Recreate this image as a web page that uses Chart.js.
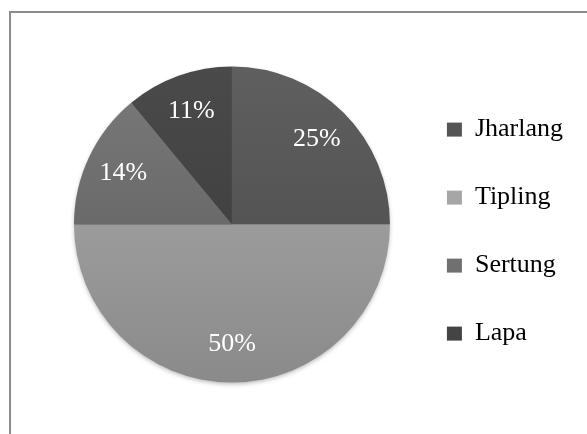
<!DOCTYPE html>
<html>
<head>
<meta charset="utf-8">
<script src="https://cdn.jsdelivr.net/npm/chart.js@4"></script>
<style>
  body { margin: 0; overflow: hidden; background: #fff; width: 587px; height: 434px; }
  #frame { position: absolute; left: 9px; top: 11px; width: 700px; height: 600px; border: 2px solid #8c8c8c; }
  #c { position: absolute; left: 0; top: 0; }
</style>
</head>
<body>
<div id="frame"></div>
<canvas id="c" width="573" height="449"></canvas>
<script>
const categories = ["Jharlang", "Tipling", "Sertung", "Lapa"];
const shares = [25, 50, 14, 11];

// warna irisan: atas lebih terang, bawah lebih gelap
const topColors = ["#5f5f5f", "#adadad", "#7a7a7a", "#4a4a4a"];
const bottomColors = ["#494949", "#8a8a8a", "#5a5a5a", "#393939"];
const legendColors = ["#555555", "#a6a6a6", "#707070", "#444444"];

const pieRadius = 158;

function sliceFill(context) {
  const i = context.dataIndex;
  const area = context.chart.chartArea;
  if (!area) return topColors[i];
  const cy = (area.top + area.bottom) / 2;
  const g = context.chart.ctx.createLinearGradient(0, cy - pieRadius, 0, cy + pieRadius);
  g.addColorStop(0, topColors[i]);
  g.addColorStop(1, bottomColors[i]);
  return g;
}

// bayangan tipis di bawah lingkaran
const pieShadow = {
  id: "pieShadow",
  beforeDatasetsDraw(chart) {
    const arc = chart.getDatasetMeta(0).data[0];
    if (!arc) return;
    const ctx = chart.ctx;
    ctx.save();
    ctx.shadowColor = "rgba(0,0,0,0.35)";
    ctx.shadowBlur = 5;
    ctx.shadowOffsetY = 2;
    ctx.fillStyle = "#888";
    ctx.beginPath();
    ctx.arc(arc.x, arc.y, arc.outerRadius - 1, 0, Math.PI * 2);
    ctx.fill();
    ctx.restore();
  },
};

// label persen di dalam irisan
const sliceLabels = {
  id: "sliceLabels",
  afterDatasetsDraw(chart) {
    const ctx = chart.ctx;
    const meta = chart.getDatasetMeta(0);
    ctx.save();
    ctx.font = "26px 'Liberation Serif'";
    ctx.fillStyle = "#ffffff";
    ctx.textAlign = "center";
    ctx.textBaseline = "middle";
    meta.data.forEach((arc, i) => {
      const mid = (arc.startAngle + arc.endAngle) / 2;
      const r = arc.outerRadius * 0.76;
      ctx.fillText(shares[i] + "%", arc.x + Math.cos(mid) * r, arc.y + Math.sin(mid) * r);
    });
    ctx.restore();
  },
};

const chart = new Chart(document.getElementById("c"), {
  type: "pie",
  data: {
    labels: categories,
    datasets: [
      {
        data: shares,
        backgroundColor: sliceFill,
        borderWidth: 0,
        radius: pieRadius,
      },
    ],
  },
  options: {
    responsive: false,
    animation: false,
    layout: { padding: { left: 59, top: 0, bottom: 0, right: 0 } },
    plugins: {
      tooltip: { enabled: false },
      legend: {
        position: "right",
        title: { display: true, text: "", padding: { top: 6, bottom: 7 }, font: { size: 1 } },
        labels: {
          color: "#000000",
          font: { family: "'Liberation Serif'", size: 26 },
          boxWidth: 15,
          boxHeight: 14,
          padding: 42,
          generateLabels: (chart) => {
            const items = Chart.overrides.pie.plugins.legend.labels.generateLabels(chart);
            items.forEach((item, i) => {
              item.fillStyle = legendColors[i];
              item.strokeStyle = legendColors[i];
              item.lineWidth = 0;
            });
            return items;
          },
        },
      },
    },
  },
  plugins: [pieShadow, sliceLabels],
});
</script>
</body>
</html>
